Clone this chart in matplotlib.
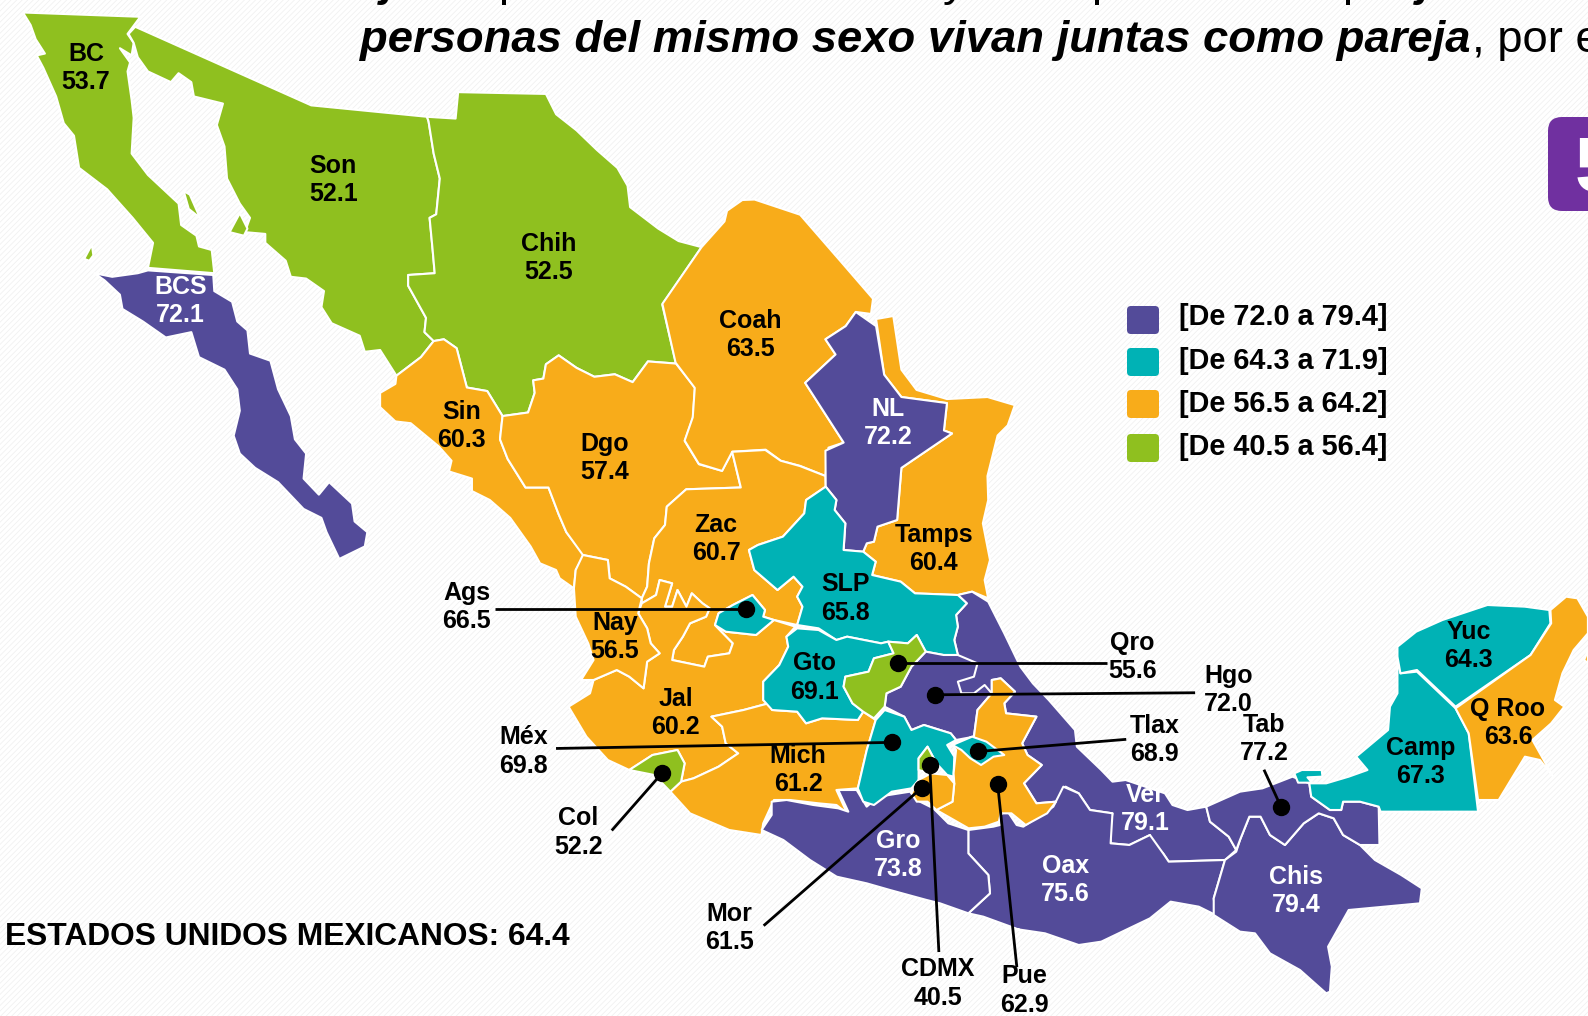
import numpy as np
import matplotlib
matplotlib.use("Agg")
import matplotlib.pyplot as plt
from matplotlib.patches import Polygon, Rectangle, FancyBboxPatch

# ---- data ----
states = ["BC","Son","Chih","BCS","Coah","NL","Sin","Dgo","Zac","Tamps","SLP","Nay","Ags","Jal","Gto","Qro",
          "Hgo","Ver","Col","Mich","Méx","CDMX","Mor","Pue","Tlax","Gro","Oax","Chis","Tab","Camp","Yuc","Q Roo"]
values = [53.7,52.1,52.5,72.1,63.5,72.2,60.3,57.4,60.7,60.4,65.8,56.5,66.5,60.2,69.1,55.6,
          72.0,79.1,52.2,61.2,69.8,40.5,61.5,62.9,68.9,73.8,75.6,79.4,77.2,67.3,64.3,63.6]
national_label = "ESTADOS UNIDOS MEXICANOS: 64.4"
class_lower = [72.0, 64.3, 56.5, 40.5]
class_upper = [79.4, 71.9, 64.2, 56.4]
class_colors = ["#534B99", "#00B2B5", "#F8AC1A", "#8FC01F"]

# ---- geometry helpers: outlines are traced in pixels of the picture ----
def s(p):  return [(x*1.0128, y*1.0128) for x, y in p]
def z1(p): return [(x/1.96, y/2.8) for x, y in p]
def z2(p): return [(540+x/2.8, 480+y/3) for x, y in p]
def z4(p): return [(1000+x/2.667, 560+y/3) for x, y in p]
def z5(p): return [(640+x/3, 740+y/3) for x, y in p]

shapes = {
"BC": [z1([(45,35),(275,47),(250,95),(262,120),(258,155),(235,135),(255,175),(250,200),(258,280),(262,330),(258,430),(290,490),(350,570),(355,630),(385,660),(390,690),(415,700),(420,765),(290,750),(300,680),(260,610),(210,530),(155,470),(145,380),(125,345),(110,270),(85,190),(72,155),(88,150),(70,110),(60,70)]),
       z1([(360,535),(372,545),(392,610),(370,585)]), z1([(180,685),(183,715),(175,730),(165,725)])],
"BCS": [z1([(185,765),(220,775),(270,765),(290,757),(418,770),(420,815),(455,845),(465,900),(485,925),(490,990),(530,1010),(545,1090),(570,1165),(578,1230),(600,1270),(595,1340),(625,1385),(645,1350),(690,1410),(695,1460),(720,1490),(715,1530),(665,1565),(640,1490),(630,1450),(595,1425),(545,1350),(500,1310),(470,1270),(458,1220),(470,1150),(465,1090),(440,1035),(390,1000),(375,930),(325,945),(280,900),(240,865),(235,825),(205,785)])],
"Son": [z1([(265,75),(610,295),(837,327),(840,340),(850,430),(862,500),(855,600),(842,610),(848,700),(852,765),(800,770),(800,800),(835,890),(832,930),(850,955),(825,1000),(777,1052),(745,980),(715,985),(705,940),(650,905),(630,860),(635,815),(600,780),(570,775),(560,730),(520,680),(520,655),(480,650),(490,610),(470,570),(445,500),(440,410),(425,350),(437,290),(380,270),(375,230),(350,205),(335,230),(290,200),(270,160),(262,120),(252,95)]),
        z1([(470,597),(485,640),(478,660),(450,650)])],
"Chih": [z1([(837,327),(893,332),(898,258),(1070,263),(1090,320),(1130,365),(1170,420),(1210,470),(1230,520),(1235,580),(1290,640),(1330,675),(1375,692),(1298,853),(1325,1018),(1270,1012),(1240,1070),(1205,1048),(1165,1055),(1130,1030),(1095,995),(1070,1020),(1065,1060),(1045,1065),(1048,1100),(1035,1155),(985,1165),(955,1095),(915,1085),(895,975),(870,950),(850,955),(832,930),(835,890),(800,800),(800,770),(852,765),(848,700),(842,610),(855,600),(862,500),(850,430),(840,340)])],
"Sin": [z1([(777,1052),(825,1000),(850,955),(870,950),(895,975),(915,1085),(955,1095),(985,1165),(980,1230),(995,1285),(1030,1365),(1075,1365),(1095,1440),(1110,1490),(1145,1555)])+z2([(100,270),(95,325),(55,295),(45,270),(0,250)])+z1([(1040,1530),(1000,1450),(960,1400),(925,1375),(925,1340),(880,1320),(885,1290),(860,1250),(805,1185),(775,1180),(745,1140),(745,1100),(775,1075)])],
"Dgo": [z1([(985,1165),(1035,1155),(1048,1100),(1045,1065),(1065,1060),(1070,1020),(1095,995),(1130,1030),(1165,1055),(1205,1048),(1240,1070),(1270,1012),(1325,1018),(1362,1085),(1358,1170),(1342,1235),(1370,1300),(1415,1318),(1435,1265),(1452,1365),(1345,1370)])+z2([(355,80),(350,135),(320,175),(305,250),(300,320),(285,355),(240,320),(195,295),(190,240),(120,225)])+z1([(1110,1490),(1095,1440),(1075,1365),(1030,1365),(995,1285),(980,1230)])],
"Coah": [z1([(1375,692),(1420,620),(1425,590),(1455,560)])+s([(745,197),(790,212),(830,258),(862,295),(860,310),(845,308),(835,322),(815,335),(825,350),(795,378),(833,437),(818,442),(815,470),(790,460),(771,455),(756,444),(723,446),(713,465),(690,458),(676,435),(684,412),(686,383),(667,358),(654,300)])],
"NL": [s([(845,308),(865,322),(873,370),(890,392),(935,398),(932,425),(940,428),(890,462)])+z2([(1000,120),(945,140),(935,185),(915,190),(905,215),(850,210),(855,130),(825,90),(830,60),(800,20)])+s([(815,445),(833,437),(795,378),(825,350),(815,335),(835,322)])],
"Tamps": [s([(865,315),(882,312),(890,365),(905,385),(935,394),(975,392),(1002,400),(995,420),(985,430),(975,470)])+z2([(1255,60),(1240,130),(1260,240),(1245,300),(1255,355),(1210,335),(1170,345),(1050,340),(1010,305),(930,285),(940,245),(905,215),(915,190),(935,185),(945,140),(1000,120)])+s([(890,462),(940,428),(932,425),(935,398),(890,392),(873,370)])],
"Zac": [z1([(1345,1370),(1452,1365),(1435,1265),(1500,1260),(1530,1290),(1568,1305)])+s([(815,470)])+z2([(800,20),(745,60),(740,100),(680,170),(610,195),(585,210),(600,270),(665,330),(710,290),(735,320),(720,350),(735,380),(720,435),(655,420),(625,410),(630,390),(595,345),(540,375),(500,400),(490,435),(540,490),(530,520),(470,530),(460,560),(370,540),(375,510),(400,470),(420,430),(465,410),(475,385),(455,370),(425,340),(410,380),(385,330),(370,380),(350,380),(370,310),(335,300),(325,345),(285,370),(285,355),(300,320),(305,250),(320,175),(350,135),(355,80)])],
"SLP": [z2([(800,20),(830,60),(825,90),(855,130),(850,210),(905,215),(940,245),(930,285),(1010,305),(1050,340),(1170,345),(1195,370),(1165,405),(1170,440),(1160,480),(1170,525),(1130,525),(1080,515),(1055,465),(1030,490),(975,485),(955,490),(860,470),(830,480),(780,445),(720,435),(735,380),(720,350),(735,320),(710,290),(665,330),(600,270),(585,210),(610,195),(680,170),(740,100),(745,60)])],
"Nay": [z2([(120,225),(190,240),(195,295),(240,320),(285,355),(275,400),(300,445),(310,490),(335,520),(300,545),(290,625),(250,590),(215,570),(150,600),(115,600),(150,540),(135,490),(100,410),(95,325),(100,270)])],
"Ags": [z2([(490,435),(500,400),(540,375),(595,345),(630,390),(625,410),(655,420),(605,465),(520,455)])],
"Jal": [z2([(285,370),(325,345),(335,300),(370,310),(350,380),(370,380),(385,330),(410,380),(425,340),(455,370),(475,385),(465,410),(420,430),(400,470),(375,510),(370,540),(460,560),(470,530),(530,520),(540,490),(490,435),(520,455),(605,465),(655,420),(715,440),(690,470),(695,500),(670,555),(625,605),(625,660),(640,670),(570,690),(480,710),(510,740),(520,790),(555,820),(500,860),(430,895),(395,905),(405,850),(385,810),(315,825),(250,870),(190,840),(130,770),(80,680),(140,640),(150,600),(215,570),(250,590),(290,625),(300,545),(335,520),(310,490),(300,445),(275,400)])],
"Gto": [z2([(720,445),(780,450),(830,480),(860,470),(955,490),(975,485),(990,520),(935,535),(920,575),(855,590),(850,620),(875,670),(905,695),(890,720),(790,715),(745,730),(720,695),(650,690),(625,660),(625,605),(670,555),(695,500),(690,470)])],
"Qro": [z2([(975,485),(1030,490),(1055,465),(1080,515),(1040,560),(1010,620),(970,640),(965,680),(935,715),(905,695),(875,670),(850,620),(855,590),(920,575),(935,535),(990,520)])],
"Ver": [z2([(1170,345),(1210,335),(1255,365),(1300,460),(1345,560),(1380,610)])+z4([(130,420),(200,510),(205,560),(270,630),(300,665),(335,660),(440,700),(460,735),(500,750),(550,740),(560,785),(610,830),(630,870),(600,900),(450,905),(435,880),(395,850),(400,825),(345,855),(295,850),(295,790),(300,760),(240,750),(210,700),(175,680)])+z2([(1445,965),(1390,970),(1355,910),(1405,855),(1365,825),(1350,790),(1390,710),(1305,700),(1300,670),(1330,635),(1290,595),(1265,600),(1265,640),(1225,690),(1215,770),(1170,780),(1150,760),(1105,745),(1075,735),(1040,750),(1020,710),(965,680),(970,640),(1010,620),(1040,560),(1080,515),(1130,525),(1170,525),(1160,480),(1170,440),(1165,405),(1195,370)])],
"Hgo": [z2([(965,680),(970,640),(1010,620),(1040,560),(1080,515),(1130,525),(1170,525),(1225,550),(1215,590),(1170,605),(1180,640),(1215,640),(1245,615),(1265,640),(1225,690),(1215,770),(1165,780),(1150,760),(1105,745),(1075,735),(1040,750),(1020,710)])],
"Col": [z2([(250,870),(315,825),(385,810),(405,850),(395,905),(365,935),(320,885)])],
"Mich": [z2([(640,670),(570,690),(480,710),(510,740),(520,790),(555,820),(500,860),(430,895),(395,905),(365,935),(420,1000),(530,1050),(620,1065),(625,1030),(655,960),(700,960),(780,970),(830,975),(860,1000),(830,930),(890,925),(915,810),(940,720),(905,695),(890,720),(790,715),(745,730),(720,695),(650,690)])],
"Méx": [z2([(965,690),(1020,710),(1040,750),(1075,735),(1105,745),(1150,760),(1165,780),(1140,795),(1160,830),(1158,890),(1140,885),(1110,850),(1085,800),(1060,835),(1060,900),(1040,925),(985,935),(935,975),(905,965),(890,925),(915,810),(940,720)])],
"CDMX": [z2([(1085,800),(1110,850),(1095,880),(1060,870),(1060,835)])],
"Mor": [z2([(1040,940),(1060,900),(1095,880),(1140,885),(1160,910),(1155,965),(1110,990),(1085,965),(1055,965)])],
"Pue": [z2([(1290,595),(1330,635),(1300,670),(1305,700),(1390,710),(1350,790),(1365,825),(1405,855),(1355,910),(1390,970),(1445,965),(1420,1000),(1360,1035),(1320,1000),(1290,1000),(1285,1025),(1245,1040),(1200,1045),(1110,990),(1155,965),(1160,910),(1158,880),(1165,810),(1155,795),(1210,770),(1215,770),(1225,690),(1265,640),(1265,600)])],
"Tlax": [z2([(1155,795),(1210,770),(1250,785),(1300,825),(1270,830),(1235,855),(1205,835),(1180,810)])],
"Gro": [z5([(365,270),(395,225),(395,185),(440,180),(520,195),(595,205),(625,215),(595,150),(650,150),(680,200),(715,170),(810,155),(840,185),(880,205),(925,250),(985,270),(985,340),(1045,405),(1050,460),(985,520),(900,490),(860,480),(750,450),(680,430),(590,410),(510,360),(430,300)])],
"Oax": [z5([(985,270),(1060,260),(1080,255),(1075,230),(1100,210),(1130,255),(1150,260),(1240,200),(1270,140)])+z4([(210,700),(240,750),(300,760),(295,850),(345,855),(400,825),(435,880),(450,905),(600,900),(570,1015),(575,1065),(530,1040),(455,1025),(400,1075),(270,1145),(210,1155),(120,1120),(0,1100)])+z5([(1140,570),(1030,530),(985,520),(1050,460),(1045,405),(985,340)])],
"Chis": [z4([(600,900),(630,875),(640,840),(665,770),(695,770),(720,825),(760,855),(810,790),(850,760),(890,775),(915,825),(960,855),(1000,900),(1070,945),(1125,985),(1120,1030),(930,1050),(875,1160),(885,1220),(880,1295),(870,1300),(800,1230),(720,1180),(680,1120),(640,1115),(570,1065),(570,1015)])],
"Tab": [z4([(550,740),(640,695),(700,685),(780,650),(825,670),(830,710),(880,750),(910,750),(915,725),(960,725),(1010,740),(1012,855),(960,855),(915,825),(890,775),(850,760),(810,790),(760,855),(720,825),(695,770),(665,770),(640,840),(630,870),(610,830),(560,785)])],
"Camp": [z4([(1060,290),(1068,340),(1112,335),(1215,445),(1250,520),(1275,755),(1015,755),(1010,740),(960,725),(915,725),(910,750),(880,750),(830,710),(825,670),(870,670),(930,650),(980,630),(950,590),(1035,510),(1040,440),(1060,400)]),
         z4([(785,640),(805,630),(858,630),(860,650),(820,652),(832,668),(795,668)])],
"Yuc": [z4([(1060,260),(1110,215),(1180,180),(1300,135),(1400,140),(1465,150),(1468,190),(1415,285),(1215,440),(1112,330),(1068,340),(1060,290)])],
"Q Roo": [z4([(1468,150),(1510,110),(1540,115),(1568,170),(1568,220),(1530,270),(1500,340),(1480,420),(1505,440),(1470,490),(1420,540),(1445,590),(1475,650),(1440,600),(1400,590),(1330,720),(1275,720),(1250,520),(1215,445),(1415,285),(1470,190)]),
          z4([(1568,270),(1568,310),(1558,300)])],
}
draw_order = ["BC","BCS","Son","Chih","Sin","Dgo","Coah","Tamps","Zac","Jal","Nay","Mich","Ver","Oax","Gro","Chis","Tab","Camp","Yuc","Q Roo","NL","SLP","Ags","Gto","Hgo","Qro","Col","Méx","Pue","Mor","CDMX","Tlax"]

# label centres (overview pixels); leader: start (label side) and dot
label_xy = {"BC":(85,67),"Son":(329,178),"Chih":(542,255),"BCS":(178,297),"Coah":(741,331),"NL":(877,418),"Sin":(456,421),
"Dgo":(597,452),"Zac":(707,532),"Tamps":(922,542),"SLP":(835,591),"Nay":(607,629),"Ags":(461,599),"Jal":(667,704),"Gto":(804,669),
"Qro":(1118,649),"Hgo":(1213,681),"Ver":(1131,799),"Col":(571,822),"Mich":(788,760),"Méx":(517,742),"CDMX":(926,971),"Mor":(720,916),
"Pue":(1011,978),"Tlax":(1140,731),"Gro":(887,844),"Oax":(1052,869),"Chis":(1280,880),"Tab":(1248,730),"Camp":(1403,752),"Yuc":(1450,638),"Q Roo":(1489,714)}
leaders = {"Ags":((489,601),(737,601)),"Qro":((1093,655),(887,655)),"Hgo":((1180,684),(923,686)),"Tlax":((1112,730),(966,742)),
"Méx":((549,739),(881,733)),"Col":((604,820),(654,763)),"Mor":((754,914),(910,778)),"CDMX":((927,940),(918,755)),
"Pue":((1004,955),(985,774)),"Tab":((1248,760),(1265,797))}

def class_color(v):
    for lo, hi, c in zip(class_lower, class_upper, class_colors):
        if lo <= v <= hi:
            return c
    return class_colors[-1]

FONT = "Liberation Sans"
fig = plt.figure(figsize=(15.88, 10.16), dpi=100)
ax = fig.add_axes([0, 0, 1, 1])
ax.set_xlim(0, 1588); ax.set_ylim(1016, 0); ax.axis("off")

plt.rcParams["hatch.linewidth"] = 0.5
ax.add_patch(Rectangle((0, 0), 1588, 1016, facecolor="white", edgecolor="#efefef", hatch="//////", lw=0, zorder=0))

vals = dict(zip(states, values))
for order, st in enumerate(draw_order):
    for pts in shapes[st]:
        ax.add_patch(Polygon(pts, closed=True, facecolor=class_color(vals[st]), edgecolor="white",
                             lw=1.5, joinstyle="round", zorder=2+order*0.01))

for st in states:
    x, y = s([label_xy[st]])[0]
    col = "white" if class_color(vals[st]) == class_colors[0] and st not in leaders else "black"
    ax.text(x, y, f"{st}\n{vals[st]:.1f}", ha="center", va="center", fontsize=18, fontweight="bold",
            family=FONT, color=col, linespacing=1.22, zorder=6)

for st, (a, b) in leaders.items():
    (xa, ya), (xb, yb) = s([a, b])
    ax.plot([xa, xb], [ya, yb], color="black", lw=2.0, zorder=5, solid_capstyle="butt")
    ax.plot([xb], [yb], "o", color="black", ms=11.5, zorder=5)

# legend
for i, (lo, hi, c) in enumerate(zip(class_lower, class_upper, class_colors)):
    yc = [320, 362, 404, 448][i]
    ty = [317, 361, 404, 447][i]
    ax.add_patch(FancyBboxPatch((1129, yc-12), 28, 24, boxstyle="round,pad=2,rounding_size=4", facecolor=c, edgecolor="none", zorder=3))
    ax.text(1179, ty, f"[De {lo:.1f} a {hi:.1f}]", ha="left", va="center", fontsize=20.8, fontweight="bold", family=FONT, zorder=6)

ax.text(5, 937, national_label, ha="left", va="center", fontsize=22.9, fontweight="bold", family=FONT, zorder=6)

# title (cut by the top and right edges of the slide)
t = ax.text(360, 52, "personas del mismo sexo vivan juntas como pareja", ha="left", va="baseline", fontsize=32.7,
            fontweight="bold", style="italic", family=FONT, zorder=6)
fig.canvas.draw()
bb = t.get_window_extent()
ax.text(bb.x1+1, 52, ", por e", ha="left", va="baseline", fontsize=32.7, family=FONT, zorder=6)
for gx, g, w, st in [(382, "j", "bold", "italic"), (498, "p", "normal", "normal"), (943, "y", "normal", "normal"),
                 (1091, "p", "normal", "normal"), (1342, "p", "normal", "normal"), (1418, "j", "bold", "italic")]:
    ax.text(gx, -4, g, ha="left", va="baseline", fontsize=32.7, fontweight=w, style=st, family=FONT, zorder=6, clip_on=False)

# purple tab with the page number, cut by the right edge
ax.add_patch(FancyBboxPatch((1553, 122), 60, 84, boxstyle="round,pad=5,rounding_size=14", facecolor="#7030A0", edgecolor="none", zorder=3))
ax.text(1575, 171, "5", ha="left", va="center", fontsize=56, fontweight="bold", color="white", family=FONT, zorder=4)

fig.savefig("out.png", dpi=100)
